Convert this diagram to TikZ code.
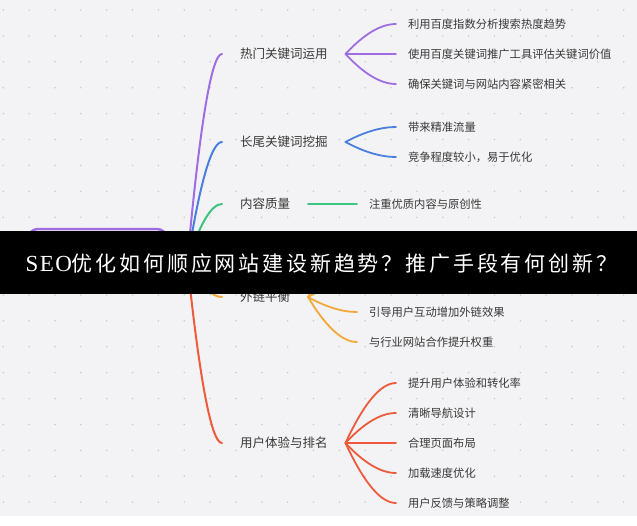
\documentclass[tikz,border=0pt]{standalone}
\usepackage{fontspec}
\setmainfont{Liberation Serif}
\newfontfamily\cjk{Noto Sans CJK SC}
\newfontfamily\song[LetterSpace=13.5]{Noto Sans CJK SC}
\newfontfamily\latserif[LetterSpace=6]{Liberation Serif}
\usetikzlibrary{calc}
\definecolor{bgc}{HTML}{F3F3F5}
\definecolor{dotc}{HTML}{C9C9CE}
\definecolor{txt}{HTML}{383838}
\definecolor{cpur}{HTML}{9E6EE0}
\definecolor{cblu}{HTML}{4A7FE0}
\definecolor{cgrn}{HTML}{3DC47E}
\definecolor{cora}{HTML}{F2A93B}
\definecolor{cred}{HTML}{EE5A3C}
\tikzset{
  mm/.style={to path={let \p1=(\tikztostart), \p2=(\tikztotarget) in
     .. controls ({\x1+0.367*(\x2-\x1)},{\y1+0.667*(\y2-\y1)}) and ({\x2-0.3*(\x2-\x1)},{\y2}) .. (\tikztotarget)}},
  branch/.style={mm, line width=2pt, line cap=round},
  twig/.style={mm, line width=1.8pt, line cap=round},
  lvone/.style={anchor=west, inner sep=0pt, outer xsep=18pt, text=txt, font=\cjk\fontsize{12.5}{15}\selectfont},
  lvtwo/.style={anchor=west, inner sep=0pt, outer xsep=12pt, text=txt, font=\cjk\fontsize{11.3}{14}\selectfont},
}
\begin{document}
\begin{tikzpicture}[x=1pt,y=-1pt]
\useasboundingbox (0,0) rectangle (637,525);
% background
\fill[bgc] (0,0) rectangle (637,516);
\fill[white] (0,516) rectangle (637,525);
\foreach \i in {0,...,24}
  \foreach \j in {0,...,19}
    \fill[dotc] ({3.3+25.85*\i},{10+25.9*\j}) circle (0.85pt);

% root
\node[draw=cpur, line width=2.5pt, rounded corners=10pt, fill=white,
      minimum width=139pt, minimum height=60pt, inner sep=0pt] (root) at (97.5,259) {};
\coordinate (hub) at ($(root.east)+(19,3)$);
\draw[cpur, line width=2pt] (root.east) -- (hub);

% first level
\node[lvone] (n1) at (222,54) {热门关键词运用};
\node[lvone] (n2) at (222,142) {长尾关键词挖掘};
\node[lvone] (n3) at (222,204) {内容质量};
\node[lvone] (n4) at (222,297) {外链平衡};
\node[lvone] (n5) at (222,443) {用户体验与排名};

\draw[branch, cpur] (hub) to (n1.west);
\draw[branch, cblu] (hub) to (n2.west);
\draw[branch, cgrn] (hub) to (n3.west);
\draw[branch, cora] (hub) to (n4.west);
\draw[branch, cred] (hub) to (n5.west);

% second level
\node[lvtwo] (a1) at (396,24) {利用百度指数分析搜索热度趋势};
\node[lvtwo] (a2) at (396,54) {使用百度关键词推广工具评估关键词价值};
\node[lvtwo] (a3) at (396,84) {确保关键词与网站内容紧密相关};
\foreach \c in {a1,a2,a3} \draw[twig, cpur] (n1.east) to (\c.west);

\node[lvtwo] (b1) at (396,127) {带来精准流量};
\node[lvtwo] (b2) at (396,157) {竞争程度较小，易于优化};
\foreach \c in {b1,b2} \draw[twig, cblu] (n2.east) to (\c.west);

\node[lvtwo] (c1) at (357,204) {注重优质内容与原创性};
\draw[twig, cgrn] (n3.east) to (c1.west);

\coordinate (d1) at (357,252);
\coordinate (d2) at (357,282);
\node[lvtwo] (d3) at (357,312) {引导用户互动增加外链效果};
\node[lvtwo] (d4) at (357,342) {与行业网站合作提升权重};
\foreach \c in {d1,d2} \draw[twig, cora] (n4.east) to (\c);
\foreach \c in {d3,d4} \draw[twig, cora] (n4.east) to (\c.west);

\node[lvtwo] (e1) at (396,383) {提升用户体验和转化率};
\node[lvtwo] (e2) at (396,413) {清晰导航设计};
\node[lvtwo] (e3) at (396,443) {合理页面布局};
\node[lvtwo] (e4) at (396,473) {加载速度优化};
\node[lvtwo] (e5) at (396,503) {用户反馈与策略调整};
\foreach \c in {e1,e2,e3,e4,e5} \draw[twig, cred] (n5.east) to (\c.west);

% banner
\fill[black] (0,230.5) rectangle (637,293.5);
\node[text=white, inner sep=0pt, font=\fontsize{21}{25}\selectfont] (title) at (321.5,264)
  {{\latserif\fontsize{23}{25}\selectfont SEO}{\song 优化如何顺应网站建设新趋势？推广手段有何创新？}};
\end{tikzpicture}
\end{document}
